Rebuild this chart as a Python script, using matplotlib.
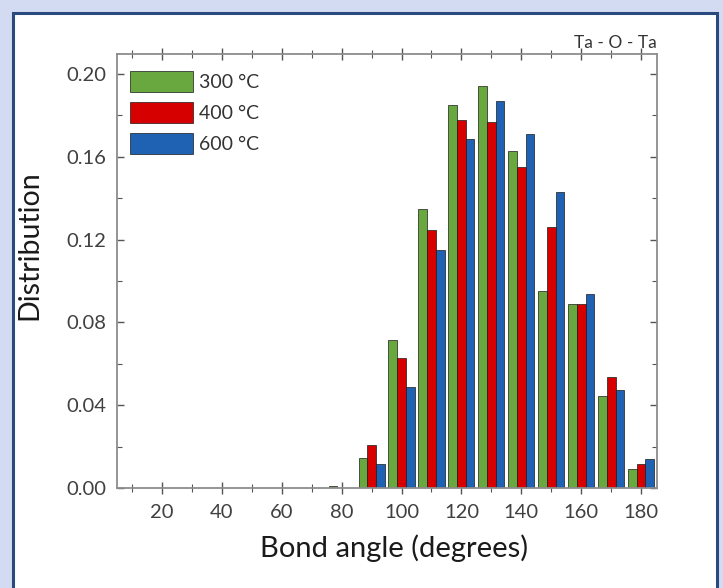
import matplotlib
matplotlib.use("Agg")
import matplotlib.pyplot as plt
from matplotlib.patches import Rectangle
from matplotlib.ticker import MultipleLocator, FormatStrFormatter
import numpy as np

plt.rcParams['font.family'] = ['Lato', 'DejaVu Sans']

# Bond-angle histogram (bin centres, degrees)
angles = [80, 90, 100, 110, 120, 130, 140, 150, 160, 170, 180]
dist_300 = [0.001, 0.0145, 0.0715, 0.135, 0.185, 0.194, 0.163, 0.095, 0.0887, 0.0444, 0.0092]
dist_400 = [0.0, 0.021, 0.063, 0.1246, 0.178, 0.177, 0.155, 0.126, 0.0887, 0.0536, 0.0116]
dist_600 = [0.0, 0.0116, 0.049, 0.115, 0.1686, 0.187, 0.171, 0.143, 0.0937, 0.0473, 0.014]
series_labels = ["300 °C", "400 °C", "600 °C"]
colors = ["#68a83e", "#d60000", "#1f62b4"]
title = "Ta - O - Ta"
x_label = "Bond angle (degrees)"
y_label = "Distribution"

W, H = 723, 588
fig = plt.figure(figsize=(W / 100, H / 100), dpi=100)
fig.patch.set_facecolor("#d3dbf3")

# white panel with dark-blue frame, kept behind the axes
fig.patches.append(Rectangle((13 / W, -0.05), (717 - 13) / W, 1.05 - 13 / H,
                             transform=fig.transFigure, facecolor="white",
                             edgecolor="#284a7c", linewidth=2.2, zorder=-10))

ax = fig.add_axes([117 / W, 1 - 488 / H, (657 - 117) / W, (488 - 54) / H])
ax.set_zorder(5)
ax.set_facecolor("white")

x = np.array(angles, dtype=float)
bw = 2.9
for i, (vals, c, lab) in enumerate(zip([dist_300, dist_400, dist_600], colors, series_labels)):
    ax.bar(x + (i - 1) * bw, vals, width=bw, color=c, edgecolor="#1a1a1a",
           linewidth=0.5, label=lab, zorder=2)

ax.set_xlim(5, 185.3)
ax.set_ylim(0, 0.2097)
ax.set_xticks(np.arange(20, 181, 20))
ax.xaxis.set_minor_locator(MultipleLocator(10))
ax.yaxis.set_major_locator(MultipleLocator(0.04))
ax.yaxis.set_minor_locator(MultipleLocator(0.02))
ax.yaxis.set_major_formatter(FormatStrFormatter("%.2f"))

ax.tick_params(axis="x", which="both", direction="inout", top=True, colors="#555555",
               labelcolor="#404040", labelsize=14.5, pad=7)
ax.tick_params(axis="x", which="major", length=9, width=1.0)
ax.tick_params(axis="x", which="minor", length=6, width=0.8)
ax.tick_params(axis="y", which="both", direction="in", right=True, colors="#555555",
               labelcolor="#404040", labelsize=14.5, pad=8)
ax.tick_params(axis="y", which="major", length=5, width=1.0)
ax.tick_params(axis="y", which="minor", length=3.5, width=0.8)
for s in ax.spines.values():
    s.set_color("#8c8c8c")
    s.set_linewidth(1.3)
    s.set_zorder(3)

ax.set_xlabel(x_label, fontsize=21, color="#1a1a1a")
ax.xaxis.set_label_coords(0.513, -0.108)
ax.set_ylabel(y_label, fontsize=20.5, color="#1a1a1a")
ax.yaxis.set_label_coords(-0.139, 0.56)
ax.set_title(title, loc="right", fontsize=12.5, color="#333333", pad=4)
ax.title.set_x(0.982)

leg = ax.legend(loc="upper left", frameon=False, fontsize=14, handlelength=3.25,
                handleheight=1.3, handletextpad=0.3, labelspacing=0.5,
                borderaxespad=0.3, borderpad=0.35, bbox_to_anchor=(0, 0.99))
for t in leg.get_texts():
    t.set_color("#333333")

fig.savefig("out.png", dpi=100, facecolor=fig.get_facecolor())
